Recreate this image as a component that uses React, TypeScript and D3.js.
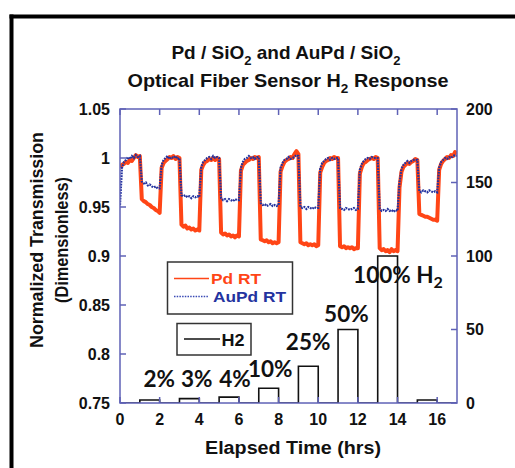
import React from "react";
import * as d3 from "d3";

// Time grid: 0.0 .. 17.0 hrs in 0.1 hr steps
const timeStart = 0;
const timeStep = 0.1;

// Pd RT normalized transmission
const pdRT: number[] = [
  0.990, 0.993, 0.994, 0.996, 0.995, 0.998, 0.997, 1.000, 1.003, 1.001,
  1.002, 0.958, 0.956, 0.955, 0.953, 0.952, 0.950, 0.949, 0.947, 0.946,
  0.944, 0.990, 0.995, 0.997, 0.999, 1.001, 1.000, 1.002, 0.999, 1.001,
  1.000, 0.932, 0.930, 0.931, 0.928, 0.929, 0.927, 0.928, 0.926, 0.927,
  0.926, 0.988, 0.993, 0.996, 0.997, 0.999, 0.998, 1.000, 0.998, 1.000,
  0.999, 0.924, 0.922, 0.923, 0.921, 0.922, 0.920, 0.921, 0.919, 0.921,
  0.920, 0.987, 0.993, 0.995, 0.997, 0.998, 1.000, 0.999, 1.001, 1.000,
  1.001, 0.917, 0.916, 0.915, 0.916, 0.914, 0.915, 0.913, 0.914, 0.913,
  0.914, 0.986, 0.992, 0.996, 0.998, 0.999, 1.001, 1.000, 1.004, 1.007,
  1.004, 0.914, 0.913, 0.912, 0.913, 0.911, 0.912, 0.911, 0.912, 0.910,
  0.911, 0.985, 0.991, 0.995, 0.997, 0.998, 1.000, 0.999, 1.001, 1.000,
  1.000, 0.910, 0.909, 0.910, 0.908, 0.909, 0.908, 0.909, 0.907, 0.908,
  0.908, 0.984, 0.991, 0.995, 0.996, 0.998, 0.999, 1.000, 0.999, 1.001,
  1.000, 0.908, 0.906, 0.907, 0.905, 0.906, 0.904, 0.907, 0.905, 0.906,
  0.905, 0.970, 0.986, 0.991, 0.993, 0.995, 0.994, 0.996, 0.997, 0.999,
  0.998, 0.943, 0.942, 0.941, 0.940, 0.940, 0.939, 0.938, 0.937, 0.937,
  0.936, 0.988, 0.994, 0.997, 0.999, 1.001, 1.000, 1.003, 1.002, 1.006,
  1.004,
];

// AuPd RT normalized transmission
const auPdRT: number[] = [
  0.952, 0.990, 0.996, 0.998, 1.001, 0.999, 1.002, 1.000, 1.003, 1.001,
  1.002, 0.976, 0.974, 0.975, 0.972, 0.973, 0.971, 0.970, 0.971, 0.969,
  0.969, 0.993, 0.998, 1.000, 1.002, 0.999, 1.001, 1.000, 1.002, 0.999,
  1.000, 0.962, 0.961, 0.962, 0.960, 0.961, 0.959, 0.961, 0.960, 0.961,
  0.960, 0.991, 0.996, 0.998, 1.000, 1.001, 0.999, 1.002, 1.000, 1.001,
  1.000, 0.959, 0.957, 0.958, 0.956, 0.958, 0.957, 0.956, 0.958, 0.957,
  0.957, 0.990, 0.996, 0.999, 1.000, 1.002, 1.000, 1.001, 0.999, 1.001,
  1.001, 0.954, 0.952, 0.953, 0.951, 0.952, 0.953, 0.951, 0.952, 0.951,
  0.952, 0.990, 0.995, 0.998, 0.999, 1.001, 0.999, 1.000, 1.001, 1.003,
  1.002, 0.950, 0.949, 0.950, 0.948, 0.950, 0.949, 0.948, 0.950, 0.949,
  0.949, 0.989, 0.995, 0.997, 0.999, 1.000, 0.998, 1.000, 0.999, 1.000,
  1.000, 0.949, 0.948, 0.947, 0.949, 0.948, 0.947, 0.948, 0.949, 0.947,
  0.948, 0.988, 0.994, 0.997, 0.999, 1.000, 0.999, 1.001, 1.000, 1.000,
  1.000, 0.948, 0.946, 0.947, 0.946, 0.948, 0.946, 0.947, 0.945, 0.947,
  0.946, 0.975, 0.989, 0.993, 0.995, 0.997, 0.995, 0.997, 0.998, 0.998,
  0.998, 0.966, 0.965, 0.967, 0.966, 0.965, 0.967, 0.966, 0.965, 0.966,
  0.965, 0.990, 0.996, 0.998, 1.000, 0.999, 1.001, 1.000, 1.002, 1.003,
  1.002,
];

// H2 exposure pulses (hrs) and concentrations (%)
const pulseStart = [1, 3, 5, 7, 9, 11, 13, 15];
const pulseEnd = [2, 4, 6, 8, 10, 12, 14, 16];
const pulseConc = [2, 3, 4, 10, 25, 50, 100, 2];

// Annotation labels (anchor in data units: hrs, right-axis %)
const annText = ["2%", "3%", "4%", "10%", "25%", "50%", "100% H"];
const annT = [1.98, 3.87, 5.8, 7.58, 9.49, 11.42, 14.02];
const annV = [11.1, 11.1, 11.1, 17.9, 36.1, 55.3, 81.4];

const xTicks = [0, 2, 4, 6, 8, 10, 12, 14, 16];
const yLeftTicks = [0.75, 0.8, 0.85, 0.9, 0.95, 1, 1.05];
const yRightTicks = [0, 50, 100, 150, 200];

const AXIS = "#5f62b6";
const RED = "#ff4516";
const BLUE = "#24339f";
const SANS = "'Liberation Sans', Arial, sans-serif";

export default function App() {
  const left = 120, right = 457, top = 109, bottom = 403;
  const x = d3.scaleLinear().domain([0, 17]).range([left, right]);
  const yL = d3.scaleLinear().domain([0.75, 1.05]).range([bottom, top]);
  const yR = d3.scaleLinear().domain([0, 200]).range([bottom, top]);

  const line = d3
    .line<number>()
    .x((_, i) => x(timeStart + i * timeStep))
    .y((d) => yL(d));

  const h2Pts: [number, number][] = [[0, 0]];
  pulseStart.forEach((s, i) => {
    h2Pts.push([s, 0], [s, pulseConc[i]], [pulseEnd[i], pulseConc[i]], [pulseEnd[i], 0]);
  });
  h2Pts.push([17, 0]);
  const h2Line = d3
    .line<[number, number]>()
    .x((d) => x(d[0]))
    .y((d) => yR(d[1]));

  const tl = 6;

  return (
    <svg
      width={515}
      height={468}
      style={{ position: "absolute", left: 0, top: 0, background: "#fff" }}
      fontFamily={SANS}
    >
      <defs>
        <clipPath id="plotClip">
          <rect x={left} y={top} width={right - left} height={bottom - top} />
        </clipPath>
      </defs>
      {/* outer frame */}
      <line x1={9.5} y1={16.5} x2={515} y2={16.5} stroke="#000" strokeWidth={4} />
      <line x1={11.5} y1={14.5} x2={11.5} y2={468} stroke="#000" strokeWidth={4} />

      {/* title */}
      <text x={286} y={58.5} textAnchor="middle" fontSize={19} fontWeight="bold" fill="#111">
        Pd / SiO<tspan dy={6} fontSize={13}>2</tspan>
        <tspan dy={-6}> and AuPd / SiO</tspan>
        <tspan dy={6} fontSize={13}>2</tspan>
      </text>
      <text
        x={288}
        y={86.5}
        textAnchor="middle"
        fontSize={19}
        fontWeight="bold"
        fill="#111"
        textLength={321}
        lengthAdjust="spacingAndGlyphs"
      >
        Optical Fiber Sensor H<tspan dy={6} fontSize={13}>2</tspan>
        <tspan dy={-6}> Response</tspan>
      </text>

      {/* data */}
      <g clipPath="url(#plotClip)">
        <path d={h2Line(h2Pts) || ""} fill="none" stroke="#111" strokeWidth={1.6} />
        <path d={line(pdRT) || ""} fill="none" stroke={RED} strokeWidth={4} strokeLinejoin="round" />
        <path d={line(auPdRT) || ""} fill="none" stroke={BLUE} strokeWidth={2.2} strokeDasharray="1.8 1" />
      </g>

      {/* axes frame */}
      <rect x={left} y={top} width={right - left} height={bottom - top} fill="none" stroke={AXIS} strokeWidth={1.5} />
      {yLeftTicks.map((t) => (
        <g key={"yl" + t}>
          <line x1={left} x2={left + tl} y1={yL(t)} y2={yL(t)} stroke={AXIS} strokeWidth={1.5} />
          <text x={110} y={yL(t) + 5.8} textAnchor="end" fontSize={16} fontWeight="bold" fill="#111">
            {String(t)}
          </text>
        </g>
      ))}
      {yRightTicks.map((t) => (
        <g key={"yr" + t}>
          <line x1={right} x2={right - tl} y1={yR(t)} y2={yR(t)} stroke={AXIS} strokeWidth={1.5} />
          <text x={466} y={yR(t) + 5.8} textAnchor="start" fontSize={16} fontWeight="bold" fill="#111">
            {String(t)}
          </text>
        </g>
      ))}
      {xTicks.map((t) => (
        <g key={"x" + t}>
          <line x1={x(t)} x2={x(t)} y1={top} y2={top + tl} stroke={AXIS} strokeWidth={1.5} />
          <line x1={x(t)} x2={x(t)} y1={bottom} y2={bottom - tl} stroke={AXIS} strokeWidth={1.5} />
          <text x={x(t)} y={425} textAnchor="middle" fontSize={16} fontWeight="bold" fill="#111">
            {String(t)}
          </text>
        </g>
      ))}

      {/* annotations */}
      {annText.map((s, i) => (
        <text
          key={"a" + i}
          x={x(annT[i])}
          y={yR(annV[i])}
          textAnchor="middle"
          fontFamily="Lato, sans-serif"
          fontWeight="bold"
          fontSize={22.5}
          fill="#111"
        >
          {s}
          {i === annText.length - 1 ? (
            <tspan dy={5} fontSize={16}>2</tspan>
          ) : null}
        </text>
      ))}

      {/* legend 1 */}
      <rect x={167.5} y={262} width={125} height={52} fill="#fff" stroke="#333" strokeWidth={1.5} />
      <line x1={174} x2={209} y1={278.5} y2={278.5} stroke={RED} strokeWidth={1.5} />
      <text x={211} y={284} fontSize={15} fontWeight="bold" fill={RED} textLength={50} lengthAdjust="spacingAndGlyphs">
        Pd RT
      </text>
      <line x1={174} x2={209} y1={296.5} y2={296.5} stroke="#3a4ab5" strokeWidth={1.3} strokeDasharray="1.5 1.2" />
      <text x={213} y={302} fontSize={15} fontWeight="bold" fill={BLUE} textLength={73} lengthAdjust="spacingAndGlyphs">
        AuPd RT
      </text>

      {/* legend 2 */}
      <rect x={177} y={323.5} width={74} height={31.5} fill="#fff" stroke="#333" strokeWidth={1.5} />
      <line x1={184} x2={220} y1={339} y2={339} stroke="#111" strokeWidth={1.5} />
      <text x={221.5} y={345.5} fontSize={16} fontWeight="bold" fill="#111" textLength={23} lengthAdjust="spacingAndGlyphs">
        H2
      </text>

      {/* axis titles */}
      <text
        transform="translate(43,240) rotate(-90)"
        textAnchor="middle"
        fontSize={18}
        fontWeight="bold"
        fill="#111"
        textLength={216}
        lengthAdjust="spacingAndGlyphs"
      >
        Normalized Transmission
      </text>
      <text
        transform="translate(68,240) rotate(-90)"
        textAnchor="middle"
        fontSize={18}
        fontWeight="bold"
        fill="#111"
        textLength={126}
        lengthAdjust="spacingAndGlyphs"
      >
        (Dimensionless)
      </text>
      <text x={293} y={454} textAnchor="middle" fontSize={18} fontWeight="bold" fill="#111" textLength={176} lengthAdjust="spacingAndGlyphs">
        Elapsed Time (hrs)
      </text>
    </svg>
  );
}
